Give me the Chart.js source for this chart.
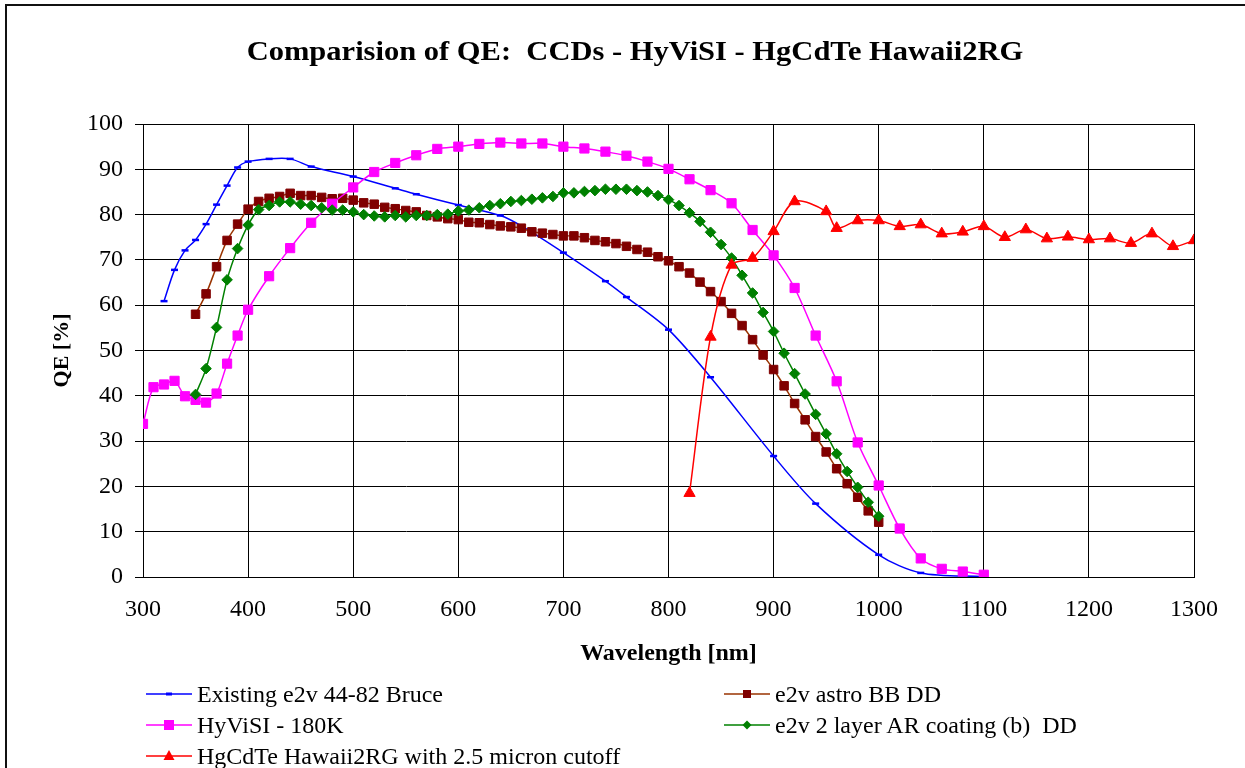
<!DOCTYPE html>
<html><head><meta charset="utf-8">
<script src="https://cdn.jsdelivr.net/npm/chart.js@4.4.0/dist/chart.umd.min.js"></script>
<style>
html,body{margin:0;padding:0;background:#fff;}
#wrap{position:relative;width:1245px;height:768px;overflow:hidden;font-family:"Liberation Serif","Times New Roman",serif;color:#000;}
#frame{position:absolute;left:5px;top:4px;width:1400px;height:900px;border-left:2px solid #111;border-top:2px solid #111;}
canvas{position:absolute;left:0;top:0;}
#title{position:absolute;left:235px;width:800px;top:33px;height:36px;line-height:36px;text-align:center;font-weight:bold;font-size:27px;white-space:nowrap;transform:scaleX(1.13);transform-origin:400px 50%;}
.leg{position:absolute;height:30px;line-height:30px;font-size:24px;white-space:nowrap;}
.sym{position:absolute;}
</style></head>
<body><div id="wrap"><div id="frame"></div><canvas id="c" width="1245" height="768"></canvas>
<div id="title">Comparision of QE:&nbsp; CCDs - HyViSI - HgCdTe Hawaii2RG</div>
<div id="legend"></div></div>
<script>
// ---- data ----
const nmBruce = [320,330,340,350,360,370,380,390,400,420,440,460,500,540,560,600,640,660,700,740,760,800,840,900,940,1000,1040,1100];
const qeBruce = [60.9,67.8,72.1,74.4,77.9,82.2,86.4,90.4,91.7,92.3,92.3,90.6,88.4,85.8,84.5,82.1,79.8,77.5,71.6,65.3,61.8,54.6,44.1,26.7,16.2,4.9,0.9,0.1];

const nmAstro = [350,360,370,380,390,400,410,420,430,440,450,460,470,480,490,500,510,520,530,540,550,560,570,580,590,600,610,620,630,640,650,660,670,680,690,700,710,720,730,740,750,760,770,780,790,800,810,820,830,840,850,860,870,880,890,900,910,920,930,940,950,960,970,980,990,1000];
const qeAstro = [58.0,62.5,68.5,74.3,77.9,81.2,82.9,83.6,84.0,84.7,84.2,84.2,83.8,83.5,83.6,83.2,82.6,82.3,81.6,81.3,80.9,80.6,79.8,79.5,79.1,78.9,78.3,78.2,77.8,77.5,77.3,77.0,76.2,75.9,75.6,75.3,75.3,74.9,74.3,74.0,73.6,73.0,72.3,71.7,70.7,69.8,68.5,67.1,65.1,63.0,60.8,58.2,55.5,52.4,49.0,45.8,42.2,38.3,34.7,31.0,27.6,23.9,20.6,17.6,14.6,12.1];

const nmHyvisi = [300,310,320,330,340,350,360,370,380,390,400,420,440,460,480,500,520,540,560,580,600,620,640,660,680,700,720,740,760,780,800,820,840,860,880,900,920,940,960,980,1000,1020,1040,1060,1080,1100];
const qeHyvisi = [33.8,41.9,42.5,43.3,39.9,39.1,38.5,40.5,47.1,53.3,59.0,66.4,72.6,78.2,82.4,86.0,89.4,91.4,93.1,94.5,95.0,95.6,95.9,95.7,95.7,95.0,94.6,93.9,93.0,91.7,90.1,87.8,85.4,82.5,76.6,71.0,63.8,53.3,43.2,29.7,20.2,10.7,4.1,1.8,1.2,0.5];

const nmAR = [350,360,370,380,390,400,410,420,430,440,450,460,470,480,490,500,510,520,530,540,550,560,570,580,590,600,610,620,630,640,650,660,670,680,690,700,710,720,730,740,750,760,770,780,790,800,810,820,830,840,850,860,870,880,890,900,910,920,930,940,950,960,970,980,990,1000];
const qeAR = [40.3,46.0,55.1,65.6,72.5,77.7,81.1,82.0,82.8,82.8,82.3,82.0,81.5,81.0,81.0,80.6,80.0,79.7,79.5,79.8,79.5,79.8,79.8,80.0,80.1,80.8,81.0,81.5,82.0,82.4,82.9,83.1,83.4,83.7,84.0,84.8,84.8,85.1,85.3,85.6,85.6,85.6,85.3,85.0,84.2,83.3,82.0,80.4,78.5,76.1,73.4,70.4,66.6,62.7,58.4,54.2,49.4,44.9,40.4,35.9,31.6,27.2,23.3,19.8,16.5,13.4];

const nmHgCdTe = [820,840,860,880,900,920,950,960,980,1000,1020,1040,1060,1080,1100,1120,1140,1160,1180,1200,1220,1240,1260,1280,1300];
const qeHgCdTe = [18.5,53.0,68.9,70.4,76.3,82.9,80.7,77.0,78.7,78.7,77.4,77.8,75.8,76.2,77.4,75.0,76.7,74.7,75.1,74.5,74.7,73.7,75.8,73.0,74.3];

const seriesNames = ["Existing e2v 44-82 Bruce","e2v astro BB DD","HyViSI - 180K","e2v 2 layer AR coating (b)  DD","HgCdTe Hawaii2RG with 2.5 micron cutoff"];
const xTickMin = 300, xTickMax = 1300, xTickStep = 100;
const yTickMin = 0, yTickMax = 100, yTickStep = 10;

const pts = (xs, ys) => xs.map((x, i) => ({x: x, y: ys[i]}));
const FONT = '"Liberation Serif","Times New Roman",serif';

const datasets = [
  {label: seriesNames[0], data: pts(nmBruce, qeBruce), borderColor:'#0000FF', borderWidth:1.5,
   pointStyle:'line', pointRadius:3.5, pointBorderWidth:2.5, pointBorderColor:'#0000FF', pointBackgroundColor:'#0000FF', order:5},
  {label: seriesNames[1], data: pts(nmAstro, qeAstro), borderColor:'#993300', borderWidth:1.5,
   pointStyle:'rect', pointRadius:6, pointBorderWidth:1, pointBorderColor:'#800000', pointBackgroundColor:'#800000', order:4},
  {label: seriesNames[2], data: pts(nmHyvisi, qeHyvisi), borderColor:'#FF00FF', borderWidth:1.5,
   pointStyle:'rect', pointRadius:6.5, pointBorderWidth:1, pointBorderColor:'#FF00FF', pointBackgroundColor:'#FF00FF', order:3},
  {label: seriesNames[3], data: pts(nmAR, qeAR), borderColor:'#008000', borderWidth:1.5,
   pointStyle:'rectRot', pointRadius:5.3, pointBorderWidth:1, pointBorderColor:'#008000', pointBackgroundColor:'#008000', order:2},
  {label: seriesNames[4], data: pts(nmHgCdTe, qeHgCdTe), borderColor:'#FF0000', borderWidth:1.5,
   pointStyle:'triangle', pointRadius:6.5, pointBorderWidth:1, pointBorderColor:'#FF0000', pointBackgroundColor:'#FF0000', order:1}
];
datasets.forEach(d => { d.tension = 0.3; d.fill = false; d.pointHoverRadius = d.pointRadius; });

const frame = {
  id: 'plotFrame',
  beforeDatasetsDraw(chart) {
    const a = chart.chartArea, ctx = chart.ctx;
    ctx.save(); ctx.strokeStyle = '#000'; ctx.lineWidth = 1;
    ctx.strokeRect(Math.round(a.left) + 0.5, Math.round(a.top) + 0.5, Math.round(a.right - a.left), Math.round(a.bottom - a.top));
    ctx.restore();
  }
};

new Chart(document.getElementById('c'), {
  type: 'line',
  data: {datasets: datasets},
  plugins: [frame],
  options: {
    responsive: false, animation: false, devicePixelRatio: 1,
    layout: {padding: {left: 6, right: 51, top: 124, bottom: 100}},
    plugins: {legend: {display: false}, title: {display: false}, tooltip: {enabled: false}},
    scales: {
      x: {
        type: 'linear', min: xTickMin, max: xTickMax,
        ticks: {stepSize: xTickStep, color: '#000', font: {family: FONT, size: 24}, padding: 18, maxRotation: 0, autoSkip: false,
                callback: v => String(v)},
        grid: {color: '#000', lineWidth: 1, drawTicks: false},
        border: {color: '#000', width: 1},
        title: {display: true, text: 'Wavelength [nm]', color: '#000', font: {family: FONT, size: 24, weight: 'bold'}, padding: {top: 0, bottom: 0}},
        afterFit: s => { s.height = 91; }
      },
      y: {
        min: yTickMin, max: yTickMax,
        ticks: {stepSize: yTickStep, color: '#000', font: {family: FONT, size: 24}, padding: 12, callback: v => String(v)},
        grid: {color: '#000', lineWidth: 1, drawTicks: true, tickLength: 8},
        border: {color: '#000', width: 1},
        title: {display: true, text: 'QE [%]', color: '#000', font: {family: FONT, size: 22, weight: 'bold'}, padding: {top: 43, bottom: 0}},
        afterFit: s => { s.width = 137; }
      }
    }
  }
});

// ---- HTML legend (built from the datasets) ----
const legPos = [[146, 679], [724, 679], [146, 710], [724, 710], [146, 741]];
const leg = document.getElementById('legend');
datasets.forEach((d, i) => {
  const [lx, ty] = legPos[i];
  const svgNS = 'http://www.w3.org/2000/svg';
  const svg = document.createElementNS(svgNS, 'svg');
  svg.setAttribute('width', 46); svg.setAttribute('height', 16);
  svg.setAttribute('class', 'sym');
  svg.style.left = lx + 'px'; svg.style.top = (ty + 7) + 'px';
  const ln = document.createElementNS(svgNS, 'line');
  ln.setAttribute('x1', 0); ln.setAttribute('x2', 46); ln.setAttribute('y1', 8); ln.setAttribute('y2', 8);
  ln.setAttribute('stroke', d.borderColor); ln.setAttribute('stroke-width', 1.5);
  svg.appendChild(ln);
  let m;
  const c = d.pointBackgroundColor;
  if (d.pointStyle === 'line') {
    m = document.createElementNS(svgNS, 'rect');
    m.setAttribute('x', 20); m.setAttribute('y', 6.5); m.setAttribute('width', 6); m.setAttribute('height', 3);
  } else if (d.pointStyle === 'rect') {
    const s = d.label === seriesNames[1] ? 8 : 10;
    m = document.createElementNS(svgNS, 'rect');
    m.setAttribute('x', 23 - s / 2); m.setAttribute('y', 8 - s / 2); m.setAttribute('width', s); m.setAttribute('height', s);
  } else if (d.pointStyle === 'rectRot') {
    m = document.createElementNS(svgNS, 'polygon');
    m.setAttribute('points', '23,3.5 27.5,8 23,12.5 18.5,8');
  } else {
    m = document.createElementNS(svgNS, 'polygon');
    m.setAttribute('points', '23,2 28.5,12 17.5,12');
  }
  m.setAttribute('fill', c);
  svg.appendChild(m);
  leg.appendChild(svg);
  const t = document.createElement('div');
  t.className = 'leg'; t.textContent = d.label;
  t.style.left = (lx + 51) + 'px'; t.style.top = ty + 'px';
  t.style.whiteSpace = 'pre';
  leg.appendChild(t);
});
</script>
</body></html>
